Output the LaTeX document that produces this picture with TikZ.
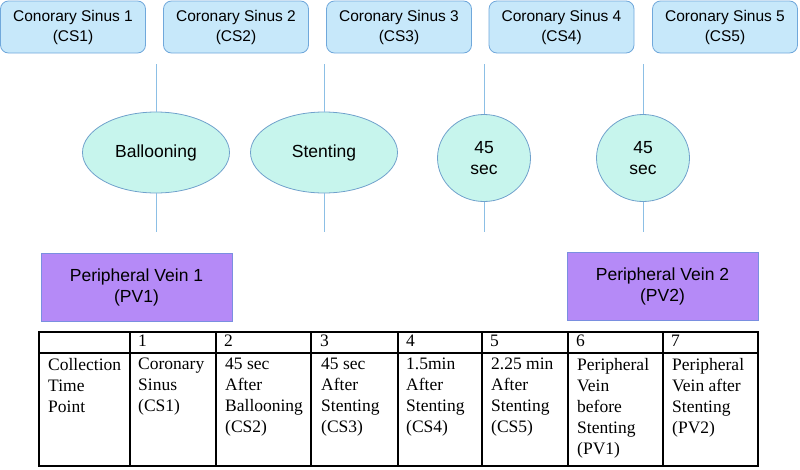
\documentclass[tikz,border=0pt]{standalone}
\usepackage{fontspec}
\setmainfont{Liberation Sans}
\newfontfamily\cellfont{Liberation Serif}
\usetikzlibrary{shapes.geometric}
\definecolor{SinusClr}{rgb}{0.78,0.91,0.98}
\definecolor{SinusEdge}{rgb}{0.44,0.66,0.86}
\definecolor{EventClr}{rgb}{0.78,0.96,0.93}
\definecolor{EventEdge}{rgb}{0.44,0.63,0.80}
\definecolor{VeinClr}{rgb}{0.71,0.54,0.97}
\definecolor{VeinEdge}{rgb}{0.48,0.56,0.88}
\definecolor{LinkClr}{rgb}{0.55,0.75,0.90}

\begin{document}
\begin{tikzpicture}[x=1pt,y=-1pt,
  sinus/.style={draw=SinusEdge,fill=SinusClr,rounded corners=8pt,line width=0.8pt,
    minimum width=145pt,minimum height=52pt,inner sep=0pt,align=center,
    font=\fontsize{15.5}{20}\selectfont},
  event/.style={ellipse,draw=EventEdge,fill=EventClr,line width=0.8pt,
    minimum width=147pt,minimum height=81pt,inner sep=0pt,align=center,
    font=\fontsize{17.5}{21}\selectfont},
  pause/.style={event,minimum width=93pt,minimum height=87pt},
  vein/.style={draw=VeinEdge,fill=VeinClr,line width=0.8pt,
    minimum width=191pt,minimum height=68pt,inner sep=0pt,align=center,
    font=\fontsize{17.5}{21}\selectfont},
  link/.style={draw=LinkClr,line width=0.9pt},
  grid/.style={line width=1.6pt},
  cell/.style={anchor=north west,inner sep=0pt,align=left,
    font=\cellfont\fontsize{17.5}{21}\selectfont}]
\useasboundingbox (0,0) rectangle (800,469);

% sampling points
\node[sinus] (cs1) at (73,27)    {Conorary Sinus 1\\(CS1)};
\node[sinus] (cs2) at (236,27)   {Coronary Sinus 2\\(CS2)};
\node[sinus] (cs3) at (399,27)   {Coronary Sinus 3\\(CS3)};
\node[sinus] (cs4) at (561.5,27) {Coronary Sinus 4\\(CS4)};
\node[sinus] (cs5) at (725,27)   {Coronary Sinus 5\\(CS5)};

% events
\node[event] (bal)  at (156,152.5) {Ballooning};
\node[event] (sten) at (324,152.5) {Stenting};
\node[pause] (wait1) at (484,158)  {45\\sec};
\node[pause] (wait2) at (643,158)  {45\\sec};

\coordinate (t1) at (156,64);  \coordinate (b1) at (156,232);
\coordinate (t2) at (324,64);  \coordinate (b2) at (324,232);
\coordinate (t3) at (484,64);  \coordinate (b3) at (484,232);
\coordinate (t4) at (643,64);  \coordinate (b4) at (643,232);

\draw[link] (t1) -- (bal.north)   (bal.south) -- (b1);
\draw[link] (t2) -- (sten.north)  (sten.south) -- (b2);
\draw[link] (t3) -- (wait1.north) (wait1.south) -- (b3);
\draw[link] (t4) -- (wait2.north) (wait2.south) -- (b4);

% peripheral samples
\node[vein] (pv1) at (136.5,287) {Peripheral Vein 1\\(PV1)};
\node[vein] (pv2) at (662.5,286) {Peripheral Vein 2\\(PV2)};

% table
\draw[grid] (39,332) rectangle (758,466);
\draw[grid] (39,353) -- (758,353);
\draw[grid] (130,332) -- (130,466) (216,332) -- (216,466)
  (311,332) -- (311,466) (398,332) -- (398,466) (482,332) -- (482,466)
  (568,332) -- (568,466) (663,332) -- (663,466);

\node[cell] (n1) at (138,335) {1};
\node[cell] (n2) at (224,335) {2};
\node[cell] (n3) at (320,335) {3};
\node[cell] (n4) at (406,335) {4};
\node[cell] (n5) at (490,335) {5};
\node[cell] (n6) at (576,335) {6};
\node[cell] (n7) at (671,335) {7};

\node[cell] (c0) at (48,358)  {Collection\\Time\\Point};
\node[cell] (c1) at (138,358) {Coronary\\Sinus\\(CS1)};
\node[cell] (c2) at (225,358) {45 sec\\After\\Ballooning\\(CS2)};
\node[cell] (c3) at (321,358) {45 sec\\After\\Stenting\\(CS3)};
\node[cell] (c4) at (406,358) {1.5min\\After\\Stenting\\(CS4)};
\node[cell] (c5) at (491,358) {2.25 min\\After\\Stenting\\(CS5)};
\node[cell] (c6) at (577,358) {Peripheral\\Vein\\before\\Stenting\\(PV1)};
\node[cell] (c7) at (672,358) {Peripheral\\Vein after\\Stenting\\(PV2)};

\end{tikzpicture}
\end{document}
